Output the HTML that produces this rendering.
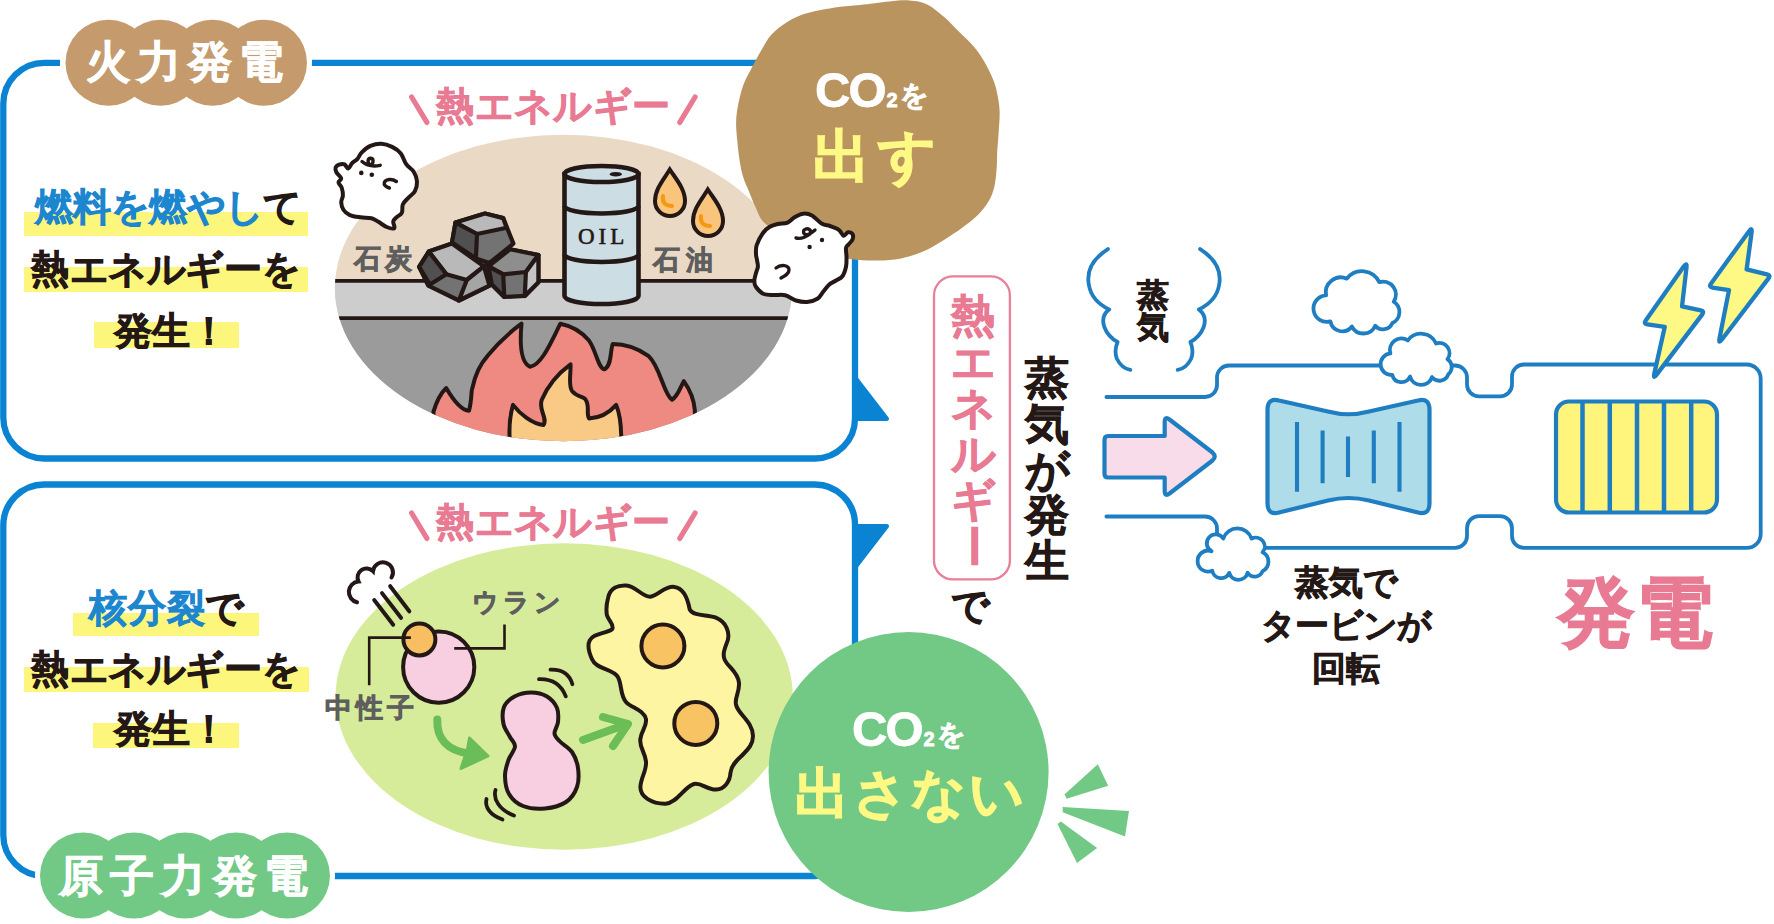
<!DOCTYPE html>
<html><head><meta charset="utf-8">
<style>
html,body{margin:0;padding:0;background:#fff;}
body{width:1774px;height:924px;position:relative;overflow:hidden;font-family:"Liberation Sans",sans-serif;}
svg{position:absolute;left:0;top:0;}
.t{position:absolute;white-space:nowrap;line-height:1;font-weight:bold;-webkit-text-stroke:0.8px currentColor;}
.t i{font-style:normal;display:inline-block;width:calc(1em + var(--ls,0px));text-align:center;}
.hl{position:absolute;background:#fcf67c;}
</style></head>
<body>
<svg width="1774" height="924" viewBox="0 0 1774 924">
<!-- ===== panels ===== -->
<g fill="none" stroke="#0a84d2" stroke-width="6.3">
  <path d="M60 62.8 H44.3 A41 41 0 0 0 3.3 103.8 V417.5 A41 41 0 0 0 44.3 458.5 H815 A40 40 0 0 0 855 418.5 V102.8 A40 40 0 0 0 815 62.8 H310"/>
  <path d="M60 484.5 H44.3 A41 41 0 0 0 3.3 525.5 V835 A41 41 0 0 0 44.3 876 H815 A40 40 0 0 0 855 836 V524.5 A40 40 0 0 0 815 484.5 H44.3"/>
</g>
<g fill="#0a84d2" stroke="#0a84d2" stroke-width="4.5" stroke-linejoin="round">
  <path d="M856 379 L886.8 418.8 L856 418.8 Z"/>
  <path d="M856 526.2 L886.8 526.2 L856 566 Z"/>
</g>

<!-- label clouds -->
<g fill="#fff">
  <circle cx="108.5" cy="62.7" r="48"/><circle cx="160.5" cy="62.7" r="48"/><circle cx="212.5" cy="62.7" r="48"/><circle cx="264" cy="62.7" r="48"/>
  <circle cx="83" cy="875.6" r="48"/><circle cx="134" cy="875.6" r="48"/><circle cx="185" cy="875.6" r="48"/><circle cx="236" cy="875.6" r="48"/><circle cx="287" cy="875.6" r="48"/>
</g>
<g fill="#c59b6d">
  <circle cx="108.5" cy="62.7" r="43"/><circle cx="160.5" cy="62.7" r="43"/><circle cx="212.5" cy="62.7" r="43"/><circle cx="264" cy="62.7" r="43"/>
</g>
<g fill="#72c986">
  <circle cx="83" cy="875.6" r="43"/><circle cx="134" cy="875.6" r="43"/><circle cx="185" cy="875.6" r="43"/><circle cx="236" cy="875.6" r="43"/><circle cx="287" cy="875.6" r="43"/>
</g>

<!-- ===== top ellipse (thermal) ===== -->
<defs>
  <clipPath id="e1"><ellipse cx="563.5" cy="288" rx="228.6" ry="153.3"/></clipPath>
  <clipPath id="e2"><ellipse cx="564.2" cy="696.5" rx="228.6" ry="153.3"/></clipPath>
</defs>
<ellipse cx="563.5" cy="288" rx="228.6" ry="153.3" fill="#ead9c4"/>
<g clip-path="url(#e1)">
  <rect x="330" y="280" width="470" height="40" fill="#cdcdcd"/>
  <rect x="330" y="318" width="470" height="130" fill="#9b9b9c"/>
  <line x1="330" y1="280.8" x2="800" y2="280.8" stroke="#231815" stroke-width="3.8"/>
  <line x1="330" y1="318.1" x2="800" y2="318.1" stroke="#231815" stroke-width="3.8"/>
  <!-- fire -->
  <path d="M433 445 L433.5 411.6 C437 400 442 392 446.2 388 C452 398 460 410 469 410.8 C472 400 471 390 472.4 388 C476 370 482 362 487.6 355.8 C498 343 510 332 521.5 323.7 C520 340 520 362 530 366.8 C542 365 552 340 560.4 323.7 C572 326 582 332 589 340.6 C596 350 598 368 604.3 369.3 C612 366 610 350 612.8 344 C628 344 640 350 648.3 355.8 C660 366 664 395 672 399.8 C678 396 680 388 683.8 381.2 C690 390 694 400 694.8 410 L696 445 Z" fill="#ef8a82" stroke="#231815" stroke-width="4" stroke-linejoin="round"/>
  <path d="M509.6 445 L509.6 437 C509 425 511 412 513 404.9 C520 414 532 424 543.5 425 C548 418 538 410 541.8 399.8 C548 385 560 372 570.5 364.3 C571 374 568 386 572.2 391.3 C578 398 584 396 585.7 399.8 C590 406 586 414 589 418.4 C600 418 610 412 616.2 404.9 C620 414 621 425 621.2 435.3 L621.2 445 Z" fill="#f9ca86" stroke="#231815" stroke-width="4" stroke-linejoin="round"/>
</g>

<!-- coal -->
<g stroke="#231815" stroke-width="4.2" stroke-linejoin="round">
<path d="M455.5 222.6 L485.0 213.5 L503.2 218.1 L513.4 243.6 L489.5 263.0 L475.9 258.4 L452.0 242.5 Z" fill="#737374"/><path d="M455.5 222.6 L485.0 213.5 L503.2 218.1 L506.6 227.7 L477.0 234.0 Z" fill="#b9b9ba"/><path d="M455.5 222.6 L477.0 234.0 L475.9 258.4 L452.0 242.5 Z" fill="#505051"/>
<path d="M419.1 266.9 L428.8 251.6 L452.0 243.6 L483.9 266.4 L489.5 285.7 L458.9 300.5 L428.2 285.7 Z" fill="#737374"/><path d="M428.8 251.6 L452.0 243.6 L483.9 266.4 L466.8 280.0 L446.4 274.3 Z" fill="#b9b9ba"/><path d="M419.1 266.9 L428.8 251.6 L446.4 274.3 L429.9 284.5 Z" fill="#505051"/><path d="M466.8 280.0 L483.9 266.4 L489.5 285.7 L458.9 300.5 Z" fill="#a5a5a6"/>
<path d="M488.4 266.4 L510.0 249.3 L538.4 255.0 L538.4 282.3 L524.8 295.9 L504.3 297.0 L491.8 284.5 Z" fill="#737374"/><path d="M488.4 266.4 L510.0 249.3 L538.4 255.0 L525.9 272.0 L503.2 274.3 Z" fill="#8e8e8f"/><path d="M488.4 266.4 L503.2 274.3 L504.3 297.0 L491.8 284.5 Z" fill="#505051"/><path d="M525.9 272.0 L538.4 255.0 L538.4 282.3 L524.8 295.9 Z" fill="#c5c5c6"/>
</g>
<circle cx="486" cy="264.3" r="2.2" fill="#231815"/>
<!-- drum -->
<g stroke="#231815" stroke-width="4.6">
  <path d="M564.5 174 V296 A37 8 0 0 0 638.5 296 V174 Z" fill="#cddde4"/>
  <ellipse cx="601.5" cy="174" rx="37" ry="8" fill="#cddde4"/>
  <path d="M564.5 206 A37 7.5 0 0 0 638.5 206 M564.5 254.5 A37 7.5 0 0 0 638.5 254.5" fill="none"/>
  <ellipse cx="615.8" cy="174.2" rx="6" ry="2.3" fill="#231815" stroke="none"/>
</g>
<!-- drops -->
<g stroke="#231815" stroke-width="4" fill="#f9c47c">
  <path d="M669.8 169.5 C664 179 655 189 655 201 A15 15 0 0 0 685 201 C685 189 676 179 669.8 169.5 Z"/>
  <path d="M707.8 189.5 C702 199 693 209 693 221 A15 15 0 0 0 723 221 C723 209 714 199 707.8 189.5 Z"/>
</g>
<g stroke="#f39a12" stroke-width="4" fill="none" stroke-linecap="round">
  <path d="M663 196 C662 202 665 206 672 206"/>
  <path d="M701 216 C700 222 703 226 710 226"/>
</g>
<!-- ghost 1 -->
<path d="M341.2 178.3 C340.9 176.6 337.4 174.3 336.5 172.5 C335.6 170.7 335.2 168.9 335.6 167.6 C336.0 166.3 337.6 165.1 339.1 164.6 C340.6 164.1 343.0 163.7 344.5 164.4 C346.0 165.1 347.0 168.8 348.3 168.6 C349.6 168.4 350.6 164.7 352.1 163.1 C353.6 161.5 355.9 160.6 357.5 158.8 C359.1 157.0 359.6 154.5 361.8 152.3 C364.0 150.1 367.2 147.2 370.5 145.8 C373.8 144.4 377.7 143.5 381.3 143.7 C384.9 143.9 388.9 145.3 392.1 146.9 C395.4 148.5 398.5 150.5 400.8 153.4 C403.1 156.3 404.1 161.1 406.2 164.2 C408.3 167.3 411.9 168.9 413.7 171.8 C415.5 174.7 416.8 178.2 417.0 181.5 C417.2 184.8 416.2 188.6 414.8 191.3 C413.4 194.0 410.3 195.6 408.3 197.8 C406.3 200.0 404.0 201.8 402.9 204.3 C401.8 206.8 402.9 210.7 401.8 212.9 C400.7 215.1 397.8 215.9 396.4 217.3 C395.0 218.8 393.5 219.8 393.2 221.6 C392.9 223.4 395.4 227.2 394.3 228.1 C393.2 229.0 389.4 228.1 386.7 227.0 C384.0 225.9 380.5 223.0 378.0 221.6 C375.5 220.2 374.4 219.0 371.5 218.3 C368.6 217.6 364.3 217.8 360.7 217.3 C357.1 216.8 352.8 216.4 349.9 215.1 C347.0 213.8 344.8 211.9 343.4 209.7 C341.9 207.5 341.3 204.4 341.2 202.1 C341.1 199.8 342.8 197.9 342.9 195.6 C343.0 193.2 342.5 190.2 341.8 188.0 C341.1 185.8 338.6 184.1 338.5 182.5 C338.4 180.9 341.5 180.0 341.2 178.3 Z" fill="#fff" stroke="#231815" stroke-width="4" stroke-linejoin="round"/>
<g fill="#231815"><circle cx="361.3" cy="172.9" r="2.3"/><circle cx="371.8" cy="174.8" r="2.3"/></g>
<g stroke="#231815" stroke-width="3.4" fill="none" stroke-linecap="round">
  <path d="M396.4 181.5 C392 178.5 386 179 384.3 182.5 C383.5 185 386 187 389.4 188"/>
  <path d="M362 161.5 C366 165 372 167 380.2 165.3 M370.5 165.5 C367 163 367.5 158.5 370.5 158.3 C373.5 158.2 374 162 371.5 165"/>
</g>
<!-- brown blob -->
<path d="M807.6 13.1 C815.9 10.7 828.1 8.7 836.8 7.3 C845.5 6.0 851.3 6.0 860.0 5.0 C868.7 4.0 880.9 2.2 889.2 1.5 C897.5 0.8 903.3 0.0 909.6 0.5 C915.9 1.0 921.4 1.6 927.2 4.4 C933.1 7.2 939.4 12.9 944.7 17.5 C950.1 22.1 954.4 27.2 959.3 32.1 C964.2 37.0 969.8 41.8 973.9 46.7 C978.0 51.6 981.0 55.9 984.1 61.3 C987.2 66.6 990.6 73.4 992.8 78.8 C995.0 84.2 996.1 88.0 997.2 93.4 C998.3 98.8 999.4 104.7 999.6 111.0 C999.9 117.3 999.1 124.6 998.7 131.4 C998.3 138.2 997.6 145.5 997.2 151.8 C996.9 158.1 997.1 163.5 996.6 169.3 C996.1 175.2 995.6 181.5 994.3 186.9 C992.9 192.3 991.4 196.6 988.5 201.5 C985.6 206.4 981.2 211.7 976.8 216.1 C972.4 220.5 967.6 223.8 962.2 227.7 C956.9 231.6 951.0 235.5 944.7 239.4 C938.4 243.3 931.5 247.9 924.2 251.1 C916.9 254.3 908.7 256.8 900.9 258.4 C893.1 260.0 886.0 260.4 877.5 260.5 C869.0 260.6 860.4 260.4 850.0 259.0 C839.6 257.6 825.8 255.8 815.0 252.0 C804.2 248.2 793.5 240.9 785.0 236.0 C776.5 231.1 768.9 227.2 764.0 222.4 C759.1 217.6 758.0 212.2 755.5 207.0 C753.0 201.8 751.0 196.2 749.0 191.4 C747.0 186.6 745.0 182.7 743.5 178.0 C742.0 173.3 741.0 168.8 740.0 163.0 C739.0 157.2 738.1 149.8 737.5 143.1 C736.9 136.4 736.0 128.9 736.1 122.6 C736.2 116.3 736.9 111.4 738.1 105.1 C739.3 98.8 741.1 91.0 743.4 84.7 C745.7 78.4 749.2 72.8 752.1 67.2 C755.0 61.6 757.7 56.5 760.9 51.1 C764.1 45.7 766.7 39.9 771.1 35.0 C775.5 30.1 781.1 25.5 787.2 21.9 C793.3 18.2 799.3 15.5 807.6 13.1 Z" fill="#b9945f"/>

<!-- ghost 2 -->
<path d="M756.7 245.2 C757.9 241.7 760.8 236.1 763.0 233.0 C765.2 229.9 767.3 228.3 769.8 226.8 C772.3 225.3 775.0 224.7 778.0 224.0 C781.0 223.3 784.8 223.8 787.6 222.6 C790.4 221.4 792.4 218.5 795.0 217.0 C797.6 215.5 800.2 213.9 803.0 213.7 C805.8 213.4 808.8 213.8 812.0 215.5 C815.2 217.2 819.0 222.1 822.0 223.8 C825.0 225.6 827.2 225.0 830.0 226.0 C832.8 227.0 836.5 228.2 838.8 229.8 C841.1 231.4 842.1 235.3 843.6 235.7 C845.1 236.1 846.5 232.6 848.0 232.3 C849.5 232.0 851.8 232.8 852.5 234.0 C853.2 235.2 853.2 237.8 852.5 239.5 C851.8 241.2 849.6 243.1 848.5 244.5 C847.4 245.9 846.3 245.9 846.0 248.0 C845.7 250.1 846.5 253.9 846.5 257.0 C846.5 260.1 846.7 263.5 846.0 266.7 C845.3 269.9 844.1 273.9 842.4 276.2 C840.7 278.5 838.2 279.1 836.0 280.5 C833.8 281.9 831.5 282.6 829.3 284.5 C827.1 286.4 825.0 289.6 823.0 292.0 C821.0 294.4 820.1 297.1 817.4 298.8 C814.7 300.5 810.6 301.7 807.0 302.0 C803.4 302.3 799.6 301.6 796.0 300.5 C792.4 299.4 788.9 296.1 785.2 295.2 C781.5 294.3 777.6 295.2 774.0 295.0 C770.4 294.8 766.8 295.3 763.8 294.0 C760.8 292.7 757.6 289.2 756.0 287.0 C754.4 284.8 754.3 283.3 754.3 281.0 C754.3 278.7 755.4 275.4 756.0 273.0 C756.6 270.6 757.7 268.9 757.9 266.7 C758.1 264.5 757.3 262.1 757.0 260.0 C756.7 257.9 756.0 256.5 756.0 254.0 C756.0 251.5 755.5 248.7 756.7 245.2 Z" fill="#fff" stroke="#231815" stroke-width="4" stroke-linejoin="round"/>
<g fill="#231815"><circle cx="822" cy="240" r="2.2"/><circle cx="809.6" cy="247" r="2.2"/></g>
<g stroke="#231815" stroke-width="3.4" fill="none" stroke-linecap="round">
  <path d="M776 268 C781 264 789 265 789 270 C789 274 785 276 781 278"/>
  <path d="M796 238 C800 239 806 237 810 234 C812 230 808 227 804 230 C802 234 806 238 815 230"/>
</g>

<!-- ===== bottom ellipse (nuclear) ===== -->
<ellipse cx="564.2" cy="696.5" rx="228.6" ry="153.3" fill="#d6ec9b"/>
<g stroke="#231815" stroke-width="4" stroke-linecap="round" fill="none">
  <path d="M357 602.2 A10.5 10.5 0 0 1 358.5 581.5 A9 9 0 0 1 373 571.2 A10 10 0 1 1 391.5 577.5"/>
  <path d="M374.2 600 L393.2 624.7 M382 593.1 L401 617.8 M390.2 586.2 L409.3 611.3"/>
</g>
<circle cx="438.7" cy="667.1" r="35.6" fill="#f7cfe1" stroke="#231815" stroke-width="4"/>
<circle cx="419.4" cy="639.4" r="16" fill="#f7bf62" stroke="#231815" stroke-width="4"/>
<g stroke="#231815" stroke-width="2.6" fill="none">
  <path d="M369.2 685.2 V637.6 H410.9"/>
  <path d="M454.2 648.4 H504.5 V624.6"/>
</g>
<!-- curved arrow -->
<g stroke="#6abd58" stroke-width="8" fill="none" stroke-linecap="round" stroke-linejoin="round">
  <path d="M437.3 719.5 C436.5 738 447 751 470 753.5"/>
</g>
<path d="M467.5 749 L469.5 738 L488 756 L461 768.5 L464.5 758 Z" fill="#6abd58" stroke="#6abd58" stroke-width="3" stroke-linejoin="round"/>
<!-- peanut -->
<path d="M531.0 692.5 C536.4 692.5 542.7 693.9 547.0 696.5 C551.3 699.1 555.2 703.8 557.0 708.0 C558.8 712.2 558.4 717.8 558.0 722.0 C557.6 726.2 554.2 730.2 554.5 733.5 C554.8 736.8 557.1 738.4 560.0 741.5 C562.9 744.6 569.0 747.6 572.0 752.0 C575.0 756.4 577.2 762.2 578.0 768.0 C578.8 773.8 579.0 781.3 577.0 787.0 C575.0 792.7 571.3 798.4 566.0 802.0 C560.7 805.6 552.2 807.8 545.0 808.5 C537.8 809.2 529.0 808.4 523.0 806.0 C517.0 803.6 512.0 799.0 509.0 794.0 C506.0 789.0 505.1 781.7 505.0 776.0 C504.9 770.3 506.8 764.9 508.5 760.0 C510.2 755.1 514.8 750.3 515.0 746.5 C515.2 742.7 511.9 740.8 510.0 737.0 C508.1 733.2 504.5 729.0 503.5 724.0 C502.5 719.0 502.2 711.6 504.0 707.0 C505.8 702.4 510.0 698.9 514.5 696.5 C519.0 694.1 525.6 692.5 531.0 692.5 Z" fill="#f7cfe1" stroke="#231815" stroke-width="4"/>
<g stroke="#231815" stroke-width="3.8" fill="none" stroke-linecap="round">
  <path d="M539 679.1 Q559 678.5 565.8 696.4"/>
  <path d="M550.5 669.6 Q568 669 572.4 684.2"/>
  <path d="M495.5 790 C493 799 499 810 514 815.5"/>
  <path d="M486.5 799 C484.5 807 490 815 502.5 819.5"/>
</g>
<!-- straight arrow -->
<g stroke="#6bbd56" stroke-width="8" fill="none" stroke-linecap="round" stroke-linejoin="round">
  <path d="M583 740 L627 724"/>
  <path d="M603 717 L628 724 L613 746"/>
</g>
<!-- yellow blob -->
<path d="M608 598.2 C610 588 618 585 626.3 585.5 C636 586 642 597 650.2 596.7 C658 596 664 586 674.2 586.9 C684 588 688 600 689.7 609.4 C694 617 708 614 716.4 617.9 C726 622 730 632 727.7 640.4 C725 648 722 654 724.8 660 C728 667 738 672 738.9 682.6 C740 692 734 698 736.1 705 C738 714 753 722 753 736 C753 746 746 751 741.7 755.8 C736 761 731 766 730.5 772.7 C730 782 724 789 716.4 789.6 C707 790 701 782 693.9 784 C684 787 677 803 665.7 803.7 C652 804 640 797 640.4 786.8 C641 777 647 770 646 761.4 C645 752 639 747 640.4 738.9 C641 731 647 727 646 719.2 C644 710 632 708 626.3 702.3 C620 696 622 684 617.9 677 C613 669 596 669 592.5 660.1 C589 653 587 646 589.7 640.4 C593 633 606 634 612.2 629.1 C615 624 606 619 606.6 612.2 C606 606 607 602 608 598.2 Z" fill="#fdf5a2" stroke="#231815" stroke-width="4"/>
<circle cx="662.9" cy="646" r="21.5" fill="#f7c363" stroke="#231815" stroke-width="4"/>
<circle cx="695.8" cy="723.4" r="21.5" fill="#f7c363" stroke="#231815" stroke-width="4"/>

<!-- green CO2 circle -->
<circle cx="908.6" cy="772" r="140" fill="#72c986"/>
<g fill="#72c986">
  <path d="M1064.7 794.2 L1097.8 764.3 L1108.2 785.7 L1066.6 798.7 Z"/>
  <path d="M1062.7 807.1 L1129 811 L1125 836.4 L1062.7 812.3 Z"/>
  <path d="M1060.8 821.4 L1097.1 848 L1077 863 L1057.5 824 Z"/>
</g>

<!-- pink box -->
<rect x="934" y="276.4" width="75.9" height="303" rx="19" fill="none" stroke="#ea7f99" stroke-width="2.3"/>

<!-- ===== right diagram ===== -->
<g fill="none" stroke="#1f7ec1" stroke-width="3.8" stroke-linecap="round" stroke-linejoin="round">
  <path d="M1106.4 397 H1205 A12 12 0 0 0 1217 385 V377.5 A12 12 0 0 1 1229 365.5 H1455 A12 12 0 0 1 1467 377.5 V384.4 A12 12 0 0 0 1479 396.4 H1500 A12 12 0 0 0 1512 384.4 V376.5 A12 12 0 0 1 1524 364.5 H1746.7 A14 14 0 0 1 1760.7 378.5 V533.9 A14 14 0 0 1 1746.7 547.9 H1524 A12 12 0 0 1 1512 535.9 V528.2 A12 12 0 0 0 1500 516.2 H1479 A12 12 0 0 0 1467 528.2 V535.9 A12 12 0 0 1 1455 547.9 H1229 A12 12 0 0 1 1217 535.9 V528.5 A12 12 0 0 0 1205 516.5 H1106.4"/>
  <path d="M1107.9 249.1 C1094 258 1086 270 1088.9 285 C1091 298 1100 305 1109.2 309.5 C1103 314 1102 320 1104.3 327 C1107 334 1112 339 1117.6 342 C1115 348 1115 354 1117 359 C1120 365 1125 369 1130.3 369.9"/>
  <path d="M1200.1 249.1 C1214 258 1222 270 1219.1 285 C1217 298 1208 305 1198.8 309.5 C1205 314 1206 320 1203.7 327 C1201 334 1196 339 1190.4 342 C1193 348 1193 354 1191 359 C1188 365 1183 369 1177.7 369.9"/>
</g>

<!--CLOUDS--><g fill="#fff" stroke="#1f7ec1" stroke-width="3.8" stroke-linejoin="round"><path d="M1330.40 321.40 A13.30 13.30 0 1 1 1326.09 295.32 A15.00 15.00 0 0 1 1346.85 278.67 A19.10 19.10 0 0 1 1379.27 282.15 A12.90 12.90 0 0 1 1393.69 301.72 A12.10 12.10 0 0 1 1392.36 322.99 A10.10 10.10 0 0 1 1375.26 325.68 A12.90 12.90 0 0 1 1351.94 326.52 A12.10 12.10 0 0 1 1330.40 321.40 Z"/><path d="M1392.28 374.98 A10.80 10.80 0 0 1 1390.43 353.46 A11.50 11.50 0 0 1 1407.83 340.46 A16.40 16.40 0 0 1 1436.09 343.46 A10.10 10.10 0 0 1 1447.43 359.12 A9.40 9.40 0 0 1 1448.34 374.20 A9.40 9.40 0 0 1 1431.99 377.09 A11.50 11.50 0 0 1 1410.01 376.46 A9.40 9.40 0 0 1 1392.28 374.98 Z"/><path d="M1212.31 570.72 A10.50 10.50 0 1 1 1211.61 551.20 A8.90 8.90 0 1 1 1223.26 538.60 A14.90 14.90 0 0 1 1251.56 538.67 A8.90 8.90 0 0 1 1262.56 552.29 A10.50 10.50 0 0 1 1262.58 571.10 A8.40 8.40 0 0 1 1247.60 572.68 A9.50 9.50 0 0 1 1229.25 572.87 A8.90 8.90 0 0 1 1212.31 570.72 Z"/></g><!--/CLOUDS-->
<!-- arrow -->
<path d="M1108 436 H1164.7 V422 Q1164.7 416 1169.5 419.5 L1212.5 452.5 Q1217 456.7 1212.5 460.5 L1169.5 493.5 Q1164.7 497 1164.7 491 V477.5 H1108 Q1104.5 477.5 1104.5 474 V440 Q1104.5 436 1108 436 Z" fill="#f9dce9" stroke="#1f7ec1" stroke-width="4.2" stroke-linejoin="round"/>
<!-- turbine -->
<path d="M1267.5 410 Q1267.5 397.5 1279 400.5 L1328 411.5 Q1348.5 417 1369 411.5 L1418 400.5 Q1429.5 397.5 1429.5 410 V503 Q1429.5 515.5 1418 512.5 L1369 500.5 Q1348.5 495.5 1328 500.5 L1279 512.5 Q1267.5 515.5 1267.5 503 Z" fill="#aedce8" stroke="#1f7ec1" stroke-width="4.2" stroke-linejoin="round"/>
<g stroke="#1f7ec1" stroke-width="4.1">
  <path d="M1297 422 V491.7 M1322.6 430.5 V483.3 M1348 436.4 V477 M1373.8 430.5 V483.3 M1399.5 422 V491.7"/>
</g>
<!-- generator -->
<rect x="1556" y="401.5" width="161" height="111" rx="13" fill="#fff57c" stroke="#1f7ec1" stroke-width="4.2"/>
<g stroke="#1f7ec1" stroke-width="4.5">
  <path d="M1582.5 401.5 V512.5 M1609.8 401.5 V512.5 M1637 401.5 V512.5 M1664 401.5 V512.5 M1691.2 401.5 V512.5"/>
</g>
<!-- bolts -->
<g fill="#fdf984" stroke="#1f7ec1" stroke-width="4.3" stroke-linejoin="round">
  <path d="M1686.5 267.6 Q1687.2 261.6 1683.7 266.5 L1645.7 320.6 Q1643.4 323.9 1647.4 324.4 L1664.8 326.8 L1654.3 373.5 Q1653.0 379.4 1656.6 374.6 L1702.3 314.4 Q1704.7 311.2 1700.8 310.4 L1682.0 306.4 Z"/>
  <path d="M1751.6 232.4 Q1752.4 226.5 1748.9 231.4 L1710.9 283.7 Q1708.6 286.9 1712.5 287.5 L1729.0 290.2 L1719.5 338.4 Q1718.3 344.3 1721.9 339.5 L1768.5 278.4 Q1770.9 275.2 1767.0 274.3 L1746.6 269.4 Z"/>
</g>

<g stroke="#e87a93" stroke-width="5.2" stroke-linecap="round">
  <path d="M411.6 97 L426.9 122.4 M695.1 97 L679.8 122.4"/>
  <path d="M411.6 513 L426.9 538.4 M695.1 513 L679.8 538.4"/>
</g>
</svg>

<!-- ===== text ===== -->
<div class="t" style="left:86px;top:40px;font-size:44px;letter-spacing:7px;--ls:7px;color:#fff;"><i>火</i><i>力</i><i>発</i><i>電</i></div>
<div class="t" style="left:59px;top:854px;font-size:44px;letter-spacing:7.2px;--ls:7.2px;color:#fff;"><i>原</i><i>子</i><i>力</i><i>発</i><i>電</i></div>

<div class="hl" style="left:23.5px;top:211.6px;width:284.5px;height:24.3px;"></div>
<div class="hl" style="left:23.5px;top:267px;width:284.5px;height:25px;"></div>
<div class="hl" style="left:93.5px;top:322px;width:145.5px;height:26px;"></div>
<div class="t" style="left:35px;top:188px;font-size:38px;color:#1c86cf;"><i>燃</i><i>料</i><i>を</i><i>燃</i><i>や</i><i>し</i><span style="color:#231815"><i>て</i></span></div>
<div class="t" style="left:31px;top:249.5px;font-size:38px;letter-spacing:0.5px;--ls:0.5px;color:#231815;"><i>熱</i><i>エ</i><i>ネ</i><i>ル</i><i>ギ</i><i>ー</i><i>を</i></div>
<div class="t" style="left:114px;top:312px;font-size:38px;color:#231815;"><i>発</i><i>生</i><i>！</i></div>

<div class="hl" style="left:72.7px;top:612.5px;width:186.8px;height:23.5px;"></div>
<div class="hl" style="left:23.6px;top:666.6px;width:285px;height:25.4px;"></div>
<div class="hl" style="left:93.4px;top:723px;width:145.9px;height:25px;"></div>
<div class="t" style="left:89px;top:588.5px;font-size:38px;letter-spacing:0.8px;--ls:0.8px;color:#1c86cf;"><i>核</i><i>分</i><i>裂</i><span style="color:#231815"><i>で</i></span></div>
<div class="t" style="left:31px;top:650px;font-size:38px;letter-spacing:0.5px;--ls:0.5px;color:#231815;"><i>熱</i><i>エ</i><i>ネ</i><i>ル</i><i>ギ</i><i>ー</i><i>を</i></div>
<div class="t" style="left:114px;top:709.5px;font-size:38px;color:#231815;"><i>発</i><i>生</i><i>！</i></div>

<div class="t" style="left:435.5px;top:86.5px;font-size:38px;letter-spacing:1.3px;--ls:1.3px;color:#e87a93;"><i>熱</i><i>エ</i><i>ネ</i><i>ル</i><i>ギ</i><i>ー</i></div>
<div class="t" style="left:435.5px;top:502.5px;font-size:38px;letter-spacing:1.3px;--ls:1.3px;color:#e87a93;"><i>熱</i><i>エ</i><i>ネ</i><i>ル</i><i>ギ</i><i>ー</i></div>

<div class="t" style="left:354px;top:246px;font-size:27px;letter-spacing:4px;--ls:4px;color:#5e5e5e;font-family:'Liberation Serif',serif;"><i>石</i><i>炭</i></div>
<div class="t" style="left:653px;top:247px;font-size:27px;letter-spacing:6px;--ls:6px;color:#5e5e5e;font-family:'Liberation Serif',serif;"><i>石</i><i>油</i></div>
<div class="t" style="left:472px;top:590px;font-size:26px;color:#5e5e5e;font-family:'Liberation Serif',serif;letter-spacing:5.2px;--ls:5.2px;"><i>ウ</i><i>ラ</i><i>ン</i></div>
<div class="t" style="left:325px;top:695px;font-size:27px;color:#5e5e5e;font-family:'Liberation Serif',serif;letter-spacing:4px;--ls:4px;"><i>中</i><i>性</i><i>子</i></div>
<div class="t" style="left:578px;top:224.5px;font-size:23px;color:#231815;font-family:'Liberation Serif',serif;letter-spacing:4px;--ls:4px;font-weight:normal;-webkit-text-stroke:0.6px #231815;">OIL</div>

<div class="t" style="left:815px;top:66px;font-size:49px;letter-spacing:-2px;--ls:-2px;color:#fff;">CO<span style="font-size:20px;letter-spacing:2px;--ls:2px;margin-left:2px;">2</span><span style="font-size:28px;letter-spacing:0;--ls:0px;position:relative;top:-2.5px;"><i>を</i></span></div>
<div class="t" style="left:812.5px;top:128px;font-size:57px;letter-spacing:8px;--ls:8px;-webkit-text-stroke:1.3px currentColor;color:#fdf984;"><i>出</i><i>す</i></div>
<div class="t" style="left:852px;top:705px;font-size:49px;letter-spacing:-2px;--ls:-2px;color:#fff;">CO<span style="font-size:20px;letter-spacing:2px;--ls:2px;margin-left:2px;">2</span><span style="font-size:28px;letter-spacing:0;--ls:0px;position:relative;top:-2.5px;"><i>を</i></span></div>
<div class="t" style="left:795px;top:766px;font-size:54px;letter-spacing:4px;--ls:4px;-webkit-text-stroke:1.3px currentColor;color:#fdf984;"><i>出</i><i>さ</i><i>な</i><i>い</i></div>

<div class="t" style="left:950.5px;top:293px;font-size:44px;line-height:45.9px;color:#e87a93;"><i>熱</i><br><i>エ</i><br><i>ネ</i><br><i>ル</i><br><i>ギ</i><br><span style="display:inline-block;transform:rotate(90deg);"><i>ー</i></span></div>
<div class="t" style="left:951px;top:587px;font-size:38px;color:#231815;"><i>で</i></div>
<div class="t" style="left:1025px;top:355px;font-size:44px;line-height:45.8px;color:#231815;"><i>蒸</i><br><i>気</i><br><i>が</i><br><i>発</i><br><i>生</i></div>
<div class="t" style="left:1136.5px;top:278.5px;font-size:32px;line-height:32px;color:#231815;"><i>蒸</i><br><i>気</i></div>

<div class="t" style="left:1240px;top:560.5px;width:212px;text-align:center;font-size:34px;line-height:43.2px;color:#231815;white-space:normal;"><i>蒸</i><i>気</i><i>で</i><br><i>タ</i><i>ー</i><i>ビ</i><i>ン</i><i>が</i><br><i>回</i><i>転</i></div>
<div class="t" style="left:1558px;top:574px;font-size:77px;letter-spacing:1px;--ls:1px;-webkit-text-stroke:1.3px currentColor;color:#e87a93;"><i>発</i><i>電</i></div>
</body></html>
